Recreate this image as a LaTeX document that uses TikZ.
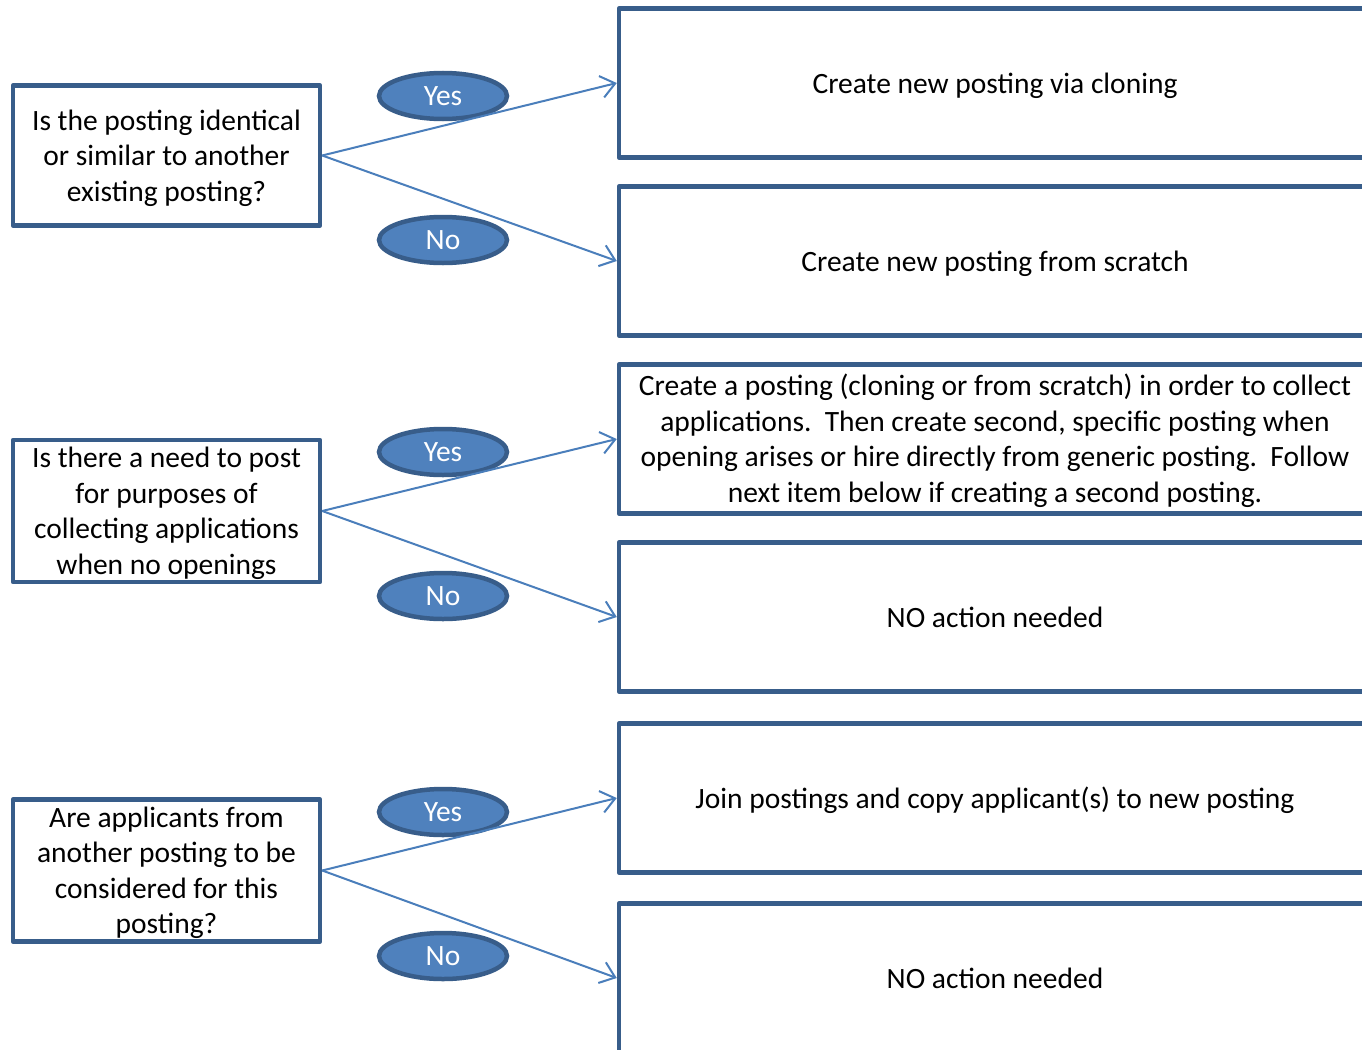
\documentclass[tikz,border=0pt]{standalone}
\usepackage{fontspec}
\setmainfont{Carlito}
\usetikzlibrary{arrows.meta,shapes.geometric}
\definecolor{bord}{HTML}{385D8A}
\definecolor{efill}{HTML}{4F81BD}
\definecolor{arr}{HTML}{4A7EBB}
\newcommand{\dnlines}[1]{\raisebox{-3pt}[\height][\depth]{\begin{tabular}{@{}c@{}}#1\end{tabular}}}
\tikzset{
  txt/.style={font=\fontsize{29.5}{35.5}\selectfont},
  qbox/.style={txt, draw=bord, line width=4.5pt, fill=white, line join=round,
    minimum width=307pt, minimum height=140pt, inner sep=0pt},
  abox/.style={txt, draw=bord, line width=4.5pt, fill=white, line join=round,
    minimum width=752pt, minimum height=149pt, inner sep=0pt},
  oval/.style={ellipse, draw=bord, line width=4.5pt, fill=efill, text=white,
    font=\fontsize{29.5}{35.5}\selectfont, minimum width=128pt, minimum height=46pt, inner sep=0pt},
  conn/.style={draw=arr, line width=2pt, -{Straight Barb[length=14pt,width=22pt,line width=2pt]}}
}
\begin{document}
\begin{tikzpicture}[x=1pt,y=-1pt]
\useasboundingbox (0,0) rectangle (1362,1049);
\clip (0,0) rectangle (1362,1049);
% right boxes
\node[abox] (a1) at (995,83) {\dnlines{Create new posting via cloning}};
\node[abox] (a2) at (995,261) {\dnlines{Create new posting from scratch}};
\node[abox] (a3) at (995,439) {\dnlines{Create a posting (cloning or from scratch) in order to collect\\applications.\ \ Then create second, specific posting when\\opening arises or hire directly from generic posting.\ \ Follow\\next item below if creating a second posting.}};
\node[abox] (a4) at (995,617) {\dnlines{NO action needed}};
\node[abox] (a5) at (995,798) {\dnlines{Join postings and copy applicant(s) to new posting}};
\node[abox] (a6) at (995,978) {\dnlines{NO action needed}};
% question boxes
\node[qbox] (q1) at (166.5,155.5) {\dnlines{Is the posting identical\\or similar to another\\existing posting?}};
\node[qbox] (q2) at (166.5,511) {\dnlines{Is there a need to post\\for purposes of\\collecting applications\\when no openings}};
\node[qbox] (q3) at (166.5,870.5) {\dnlines{Are applicants from\\another posting to be\\considered for this\\posting?}};
% ovals
\node[oval] (y1) at (443,96) {Yes};
\node[oval] (n1) at (443,240) {No};
\node[oval] (y2) at (443,452) {Yes};
\node[oval] (n2) at (443,596) {No};
\node[oval] (y3) at (443,812) {Yes};
\node[oval] (n3) at (443,956) {No};
% connectors
\draw[conn] (q1.east) -- (a1.west);
\draw[conn] (q1.east) -- (a2.west);
\draw[conn] (q2.east) -- (a3.west);
\draw[conn] (q2.east) -- (a4.west);
\draw[conn] (q3.east) -- (a5.west);
\draw[conn] (q3.east) -- (a6.west);
\end{tikzpicture}
\end{document}
